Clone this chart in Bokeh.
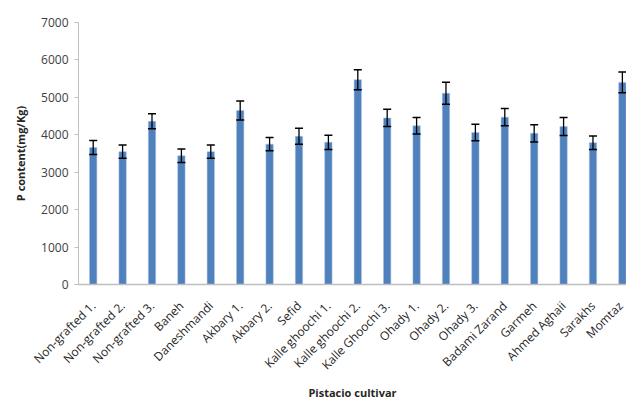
import math
from bokeh.plotting import figure
from bokeh.models import ColumnDataSource, Whisker, TeeHead, Range1d, FixedTicker
from bokeh.embed import file_html
from bokeh.resources import INLINE

cultivars = ["Non-grafted 1.", "Non-grafted 2.", "Non-grafted 3.", "Baneh", "Daneshmandi",
             "Akbary 1.", "Akbary 2.", "Sefid", "Kalle ghoochi 1.", "Kalle ghoochi 2.",
             "Kalle Ghoochi 3.", "Ohady 1.", "Ohady 2.", "Ohady 3.", "Badami Zarand",
             "Garmeh", "Ahmed Aghaii", "Sarakhs", "Momtaz"]
p_content = [3660, 3550, 4360, 3440, 3550, 4650, 3750, 3960, 3800, 5470,
             4450, 4240, 5110, 4060, 4470, 4040, 4220, 3790, 5400]
p_error = [190, 180, 200, 180, 180, 255, 175, 215, 190, 265,
           230, 220, 295, 220, 230, 230, 240, 180, 280]
y_ticks = [0, 1000, 2000, 3000, 4000, 5000, 6000, 7000]

xs = list(range(len(cultivars)))
src = ColumnDataSource(dict(
    x=xs, top=p_content,
    upper=[v + e for v, e in zip(p_content, p_error)],
    lower=[v - e for v, e in zip(p_content, p_error)],
))

FONT = "Open Sans"
p = figure(frame_width=548, frame_height=262, output_backend="svg", toolbar_location=None,
           x_range=Range1d(-0.5, 18.14), y_range=Range1d(0, 7000),
           min_border_left=78, min_border_right=0, min_border_top=22, min_border_bottom=0)
p.outline_line_color = None
p.grid.grid_line_color = None
p.background_fill_color = "white"
p.border_fill_color = "white"

p.vbar(x="x", top="top", width=0.25, bottom=0, source=src,
       fill_color="#4F81BD", line_color="#A9C1DE", line_width=0.5)

w = Whisker(base="x", upper="upper", lower="lower", source=src, level="annotation",
            line_color="black", line_width=1.3,
            upper_head=TeeHead(size=8, line_color="black", line_width=1.5),
            lower_head=TeeHead(size=8, line_color="black", line_width=1.5))
p.add_layout(w)

# x axis
xa = p.xaxis[0]
xa.ticker = FixedTicker(ticks=xs)
xa.major_label_overrides = {i: c for i, c in enumerate(cultivars)}
xa.major_label_orientation = math.pi / 4
xa.major_tick_line_color = None
xa.minor_tick_line_color = None
xa.axis_line_color = "#BFBFBF"
xa.axis_line_width = 1.5
xa.major_label_text_font = FONT
xa.major_label_text_font_size = "12px"
xa.major_label_text_color = "#262626"
xa.major_label_standoff = 13
xa.axis_label = "Pistacio cultivar"
xa.axis_label_text_font = FONT
xa.axis_label_text_font_style = "bold"
xa.axis_label_text_font_size = "11px"
xa.axis_label_text_color = "#262626"
xa.axis_label_standoff = 3

# y axis
ya = p.yaxis[0]
ya.ticker = FixedTicker(ticks=y_ticks)
ya.major_tick_in = 0
ya.major_tick_out = 4
ya.major_tick_line_color = "#BFBFBF"
ya.minor_tick_line_color = None
ya.axis_line_color = "#BFBFBF"
ya.major_label_text_font = FONT
ya.major_label_text_font_size = "12px"
ya.major_label_text_color = "#404040"
ya.major_label_standoff = 6
ya.axis_label = "P content(mg/Kg)"
ya.axis_label_text_font = FONT
ya.axis_label_text_font_style = "bold"
ya.axis_label_text_font_size = "11px"
ya.axis_label_text_color = "#262626"
ya.axis_label_standoff = 10

open("out.html", "w").write(file_html(p, INLINE))
